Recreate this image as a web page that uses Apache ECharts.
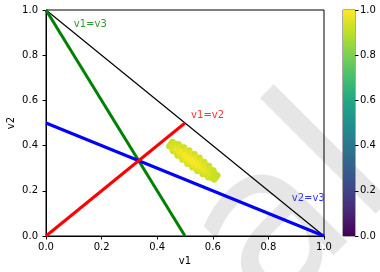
<!DOCTYPE html>
<html><head><meta charset="utf-8">
<script src="https://cdn.jsdelivr.net/npm/echarts@6/dist/echarts.min.js"></script>
<style>html,body{margin:0;padding:0;background:#fff}#c{width:380px;height:272px}</style>
</head><body><div id="c"></div>
<script>
// data
const lineBlack = [[0, 1], [1, 0]];            // v1+v2=1
const lineV1V3 = [[0, 1], [0.5, 0]];           // v1=v3
const lineV2V3 = [[0, 0.5], [1, 0]];           // v2=v3
const lineV1V2 = [[0, 0], [0.5, 0.5]];         // v1=v2
const labels = [
  {name: 'v1=v3', value: [0.1, 0.937], color: '#008000'},
  {name: 'v1=v2', value: [0.522, 0.535], color: '#ff0000'},
  {name: 'v2=v3', value: [0.884, 0.168], color: '#0000ff'}
];
// scatter cloud: [v1, v2, value]
const cloud = [
  [0.443,0.397,0.91],[0.446,0.402,0.92],[0.449,0.407,0.93],[0.452,0.412,0.92],[0.455,0.417,0.91],
  [0.452,0.389,0.93],[0.456,0.396,0.94],[0.460,0.402,0.94],[0.464,0.409,0.93],
  [0.457,0.375,0.92],[0.462,0.383,0.95],[0.467,0.391,0.96],[0.472,0.399,0.95],[0.477,0.407,0.92],
  [0.468,0.370,0.94],[0.473,0.379,0.97],[0.479,0.387,0.97],[0.484,0.396,0.94],
  [0.473,0.355,0.92],[0.479,0.364,0.97],[0.485,0.374,0.98],[0.491,0.384,0.97],[0.497,0.393,0.92],
  [0.485,0.351,0.95],[0.491,0.361,0.98],[0.497,0.371,0.98],[0.503,0.381,0.95],
  [0.490,0.337,0.93],[0.497,0.347,0.98],[0.503,0.358,1.00],[0.510,0.369,0.98],[0.516,0.379,0.93],
  [0.502,0.333,0.96],[0.509,0.344,0.99],[0.515,0.355,0.99],[0.522,0.366,0.96],
  [0.508,0.319,0.93],[0.514,0.330,0.98],[0.521,0.341,1.00],[0.528,0.352,0.98],[0.535,0.363,0.93],
  [0.520,0.316,0.96],[0.527,0.327,1.00],[0.533,0.339,1.00],[0.540,0.350,0.96],
  [0.526,0.303,0.93],[0.532,0.314,0.98],[0.539,0.325,1.00],[0.546,0.336,0.98],[0.553,0.347,0.93],
  [0.538,0.300,0.96],[0.545,0.311,0.99],[0.551,0.322,0.99],[0.558,0.333,0.96],
  [0.544,0.287,0.93],[0.551,0.297,0.97],[0.557,0.308,0.99],[0.564,0.319,0.97],[0.570,0.329,0.93],
  [0.557,0.285,0.95],[0.563,0.295,0.97],[0.569,0.305,0.97],[0.575,0.315,0.95],
  [0.563,0.273,0.92],[0.569,0.282,0.96],[0.575,0.292,0.97],[0.581,0.302,0.96],[0.587,0.311,0.92],
  [0.576,0.271,0.94],[0.581,0.280,0.96],[0.587,0.288,0.96],[0.592,0.297,0.94],
  [0.583,0.259,0.92],[0.588,0.267,0.94],[0.593,0.275,0.95],[0.598,0.283,0.94],[0.603,0.291,0.92],
  [0.596,0.257,0.92],[0.600,0.264,0.93],[0.604,0.270,0.93],[0.608,0.277,0.92],
  [0.605,0.249,0.91],[0.608,0.254,0.92],[0.611,0.259,0.92],[0.614,0.264,0.92],[0.617,0.269,0.91]
];
const ticks = [0, 0.2, 0.4, 0.6, 0.8, 1.0];
const viridis = ['#440154','#482475','#414487','#355f8d','#2a788e','#21918c','#22a884','#44bf70','#7ad151','#bddf26','#fde725'];

const chart = echarts.init(document.getElementById('c'), null, {renderer: 'canvas'});
const font = 'DejaVu Sans';
const axisCommon = {
  min: ticks[0], max: ticks[ticks.length - 1], interval: 0.2,
  axisLine: {show: true, onZero: false, lineStyle: {color: '#000', width: 1}},
  axisTick: {show: true, inside: false, length: 3.5, lineStyle: {color: '#000'}},
  axisLabel: {fontFamily: font, fontSize: 10, color: '#000', formatter: v => v.toFixed(1)},
  splitLine: {show: false},
  nameMoveOverlap: false,
  nameTextStyle: {fontFamily: font, fontSize: 10, color: '#000'}
};
chart.setOption({
  animation: false,
  graphic: [{
    type: 'text', z: -10, x: 440, y: 222, rotation: Math.PI / 4,
    style: {text: 'al', font: '215px "DejaVu Sans"', fill: '#e6e6e6', textAlign: 'right', textVerticalAlign: 'bottom'}
  }],
  grid: [
    {left: 46, top: 10, width: 278, height: 226, outerBoundsMode: 'none', containLabel: false, show: true, borderColor: '#000', borderWidth: 1, backgroundColor: 'transparent'},
    {left: 343, top: 10, width: 12, height: 226, outerBoundsMode: 'none', containLabel: false, show: true, borderColor: '#555', borderWidth: 1}
  ],
  xAxis: [
    Object.assign({}, axisCommon, {type: 'value', gridIndex: 0, name: 'v1', nameLocation: 'middle', nameGap: 20,
      axisLabel: Object.assign({}, axisCommon.axisLabel, {margin: 6})}),
    {type: 'category', gridIndex: 1, data: ['c'], show: false}
  ],
  yAxis: [
    Object.assign({}, axisCommon, {type: 'value', gridIndex: 0, name: 'v2', nameLocation: 'middle', nameGap: 30,
      axisLabel: Object.assign({}, axisCommon.axisLabel, {margin: 8})}),
    Object.assign({}, axisCommon, {type: 'value', gridIndex: 1, position: 'right',
      axisLine: {show: false},
      axisLabel: Object.assign({}, axisCommon.axisLabel, {margin: 5})})
  ],
  visualMap: {type: 'continuous', show: false, min: 0, max: 1, dimension: 2, seriesIndex: 5, inRange: {color: viridis}},
  series: [
    {type: 'line', data: lineBlack, showSymbol: false, lineStyle: {color: '#000', width: 1.2}, z: 2},
    {type: 'line', data: lineV1V3, showSymbol: false, lineStyle: {color: '#008000', width: 3}, z: 3},
    {type: 'line', data: lineV2V3, showSymbol: false, lineStyle: {color: '#0000ff', width: 3}, z: 4},
    {type: 'line', data: lineV1V2, showSymbol: false, lineStyle: {color: '#ff0000', width: 3}, z: 5},
    {type: 'scatter', data: labels.map(l => ({name: l.name, value: l.value,
        label: {show: true, position: 'right', distance: 0, formatter: '{b}', color: l.color, fontFamily: font, fontSize: 10}})),
      symbolSize: 0, silent: true, z: 6},
    {type: 'scatter', data: cloud, symbolSize: 6, z: 7, itemStyle: {opacity: 1}},
    {type: 'bar', xAxisIndex: 1, yAxisIndex: 1, data: [1], barWidth: '100%',
      itemStyle: {color: new echarts.graphic.LinearGradient(0, 1, 0, 0,
        viridis.map((c, i) => ({offset: i / (viridis.length - 1), color: c})))}}
  ]
});
</script></body></html>
